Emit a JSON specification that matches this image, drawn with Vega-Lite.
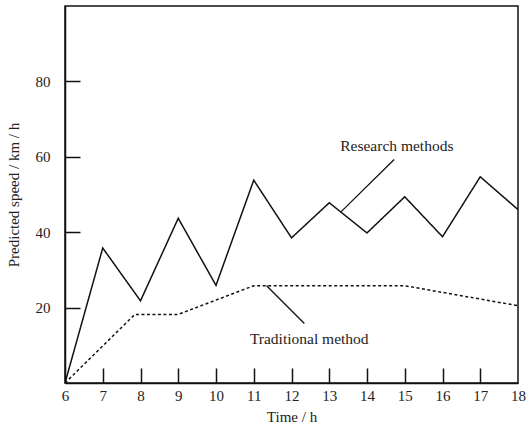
{
  "$schema": "https://vega.github.io/schema/vega-lite/v6.json",
  "width": 453,
  "height": 377,
  "autosize": "none",
  "padding": {"left": 65, "top": 6, "right": 8, "bottom": 43},
  "background": "white",
  "config": {
    "view": {"stroke": "#111", "strokeWidth": 1.5},
    "font": "Liberation Serif"
  },
  "datasets": {
    "series": [
      {"time": 6, "speed": 0, "method": "Research methods"},
      {"time": 7, "speed": 35.8, "method": "Research methods"},
      {"time": 8, "speed": 21.8, "method": "Research methods"},
      {"time": 9, "speed": 43.7, "method": "Research methods"},
      {"time": 10, "speed": 25.9, "method": "Research methods"},
      {"time": 11, "speed": 53.8, "method": "Research methods"},
      {"time": 12, "speed": 38.5, "method": "Research methods"},
      {"time": 13, "speed": 47.8, "method": "Research methods"},
      {"time": 14, "speed": 39.8, "method": "Research methods"},
      {"time": 15, "speed": 49.4, "method": "Research methods"},
      {"time": 16, "speed": 38.8, "method": "Research methods"},
      {"time": 17, "speed": 54.7, "method": "Research methods"},
      {"time": 18, "speed": 46, "method": "Research methods"},
      {"time": 6, "speed": 0, "method": "Traditional method"},
      {"time": 7.85, "speed": 18.2, "method": "Traditional method"},
      {"time": 9, "speed": 18.2, "method": "Traditional method"},
      {"time": 11, "speed": 25.8, "method": "Traditional method"},
      {"time": 15, "speed": 25.8, "method": "Traditional method"},
      {"time": 18, "speed": 20.5, "method": "Traditional method"}
    ],
    "leaders": [
      {"x": 13.31, "y": 45.4, "x2": 14.72, "y2": 59.3},
      {"x": 11.34, "y": 25.8, "x2": 12.34, "y2": 15.8}
    ],
    "labels": [
      {"x": 14.79, "y": 62.8, "text": "Research methods"},
      {"x": 12.47, "y": 11.7, "text": "Traditional method"}
    ]
  },
  "resolve": {"axis": {"x": "independent", "y": "independent"}},
  "layer": [
    {
      "data": {"name": "series"},
      "mark": {"type": "line", "strokeWidth": 1.5, "clip": true},
      "encoding": {
        "x": {
          "field": "time", "type": "quantitative",
          "scale": {"domain": [6, 18], "nice": false, "zero": false},
          "axis": {
            "orient": "bottom",
            "title": "Time / h", "values": [6,7,8,9,10,11,12,13,14,15,16,17,18],
            "grid": false, "domainColor": "#111", "domainWidth": 1.5,
            "ticks": false, "tickSize": 0,
            "labelPadding": 5, "labelFontSize": 15, "labelColor": "#222",
            "labelFont": "Liberation Serif", "labelFlush": false, "labelOverlap": false,
            "titleFont": "Liberation Serif", "titleFontSize": 15, "titleFontWeight": "normal",
            "titleColor": "#222", "titlePadding": 6
          }
        },
        "y": {
          "field": "speed", "type": "quantitative",
          "scale": {"domain": [0, 100], "nice": false},
          "axis": {
            "orient": "left",
            "title": "Predicted speed / km / h", "values": [20, 40, 60, 80],
            "grid": false, "domainColor": "#111", "domainWidth": 1.5,
            "ticks": false, "tickSize": 0,
            "labelPadding": 15, "labelFontSize": 15, "labelColor": "#222",
            "labelFont": "Liberation Serif", "labelDy": 7, "labelOverlap": false,
            "titleFont": "Liberation Serif", "titleFontSize": 15, "titleFontWeight": "normal",
            "titleColor": "#222", "titlePadding": 14
          }
        },
        "detail": {"field": "method"},
        "color": {"field": "method", "type": "nominal", "scale": {"range": ["#111", "#111"]}, "legend": null},
        "strokeDash": {"field": "method", "type": "nominal", "scale": {"domain": ["Research methods", "Traditional method"], "range": [[1, 0], [3, 2.5]]}, "legend": null}
      }
    },
    {
      "data": {"name": "leaders"},
      "mark": {"type": "rule", "color": "#111", "strokeWidth": 1.3},
      "encoding": {
        "x": {
          "field": "x", "type": "quantitative",
          "axis": {
            "orient": "top", "offset": -377, "title": null, "labels": false, "domain": false,
            "grid": false, "ticks": true, "tickSize": 15, "tickWidth": 1.5, "tickColor": "#111",
            "values": [7,8,9,10,11,12,13,14,15,16,17]
          }
        },
        "y": {
          "field": "y", "type": "quantitative",
          "axis": {
            "orient": "right", "offset": -453, "title": null, "labels": false, "domain": false,
            "grid": false, "ticks": true, "tickSize": 15, "tickWidth": 1.5, "tickColor": "#111",
            "values": [20, 40, 60, 80]
          }
        },
        "x2": {"field": "x2"},
        "y2": {"field": "y2"}
      }
    },
    {
      "data": {"name": "labels"},
      "mark": {"type": "text", "font": "Liberation Serif", "fontSize": 15.5, "color": "#222", "baseline": "middle", "align": "center"},
      "encoding": {
        "x": {"field": "x", "type": "quantitative", "axis": null},
        "y": {"field": "y", "type": "quantitative", "axis": null},
        "text": {"field": "text"}
      }
    }
  ]
}
